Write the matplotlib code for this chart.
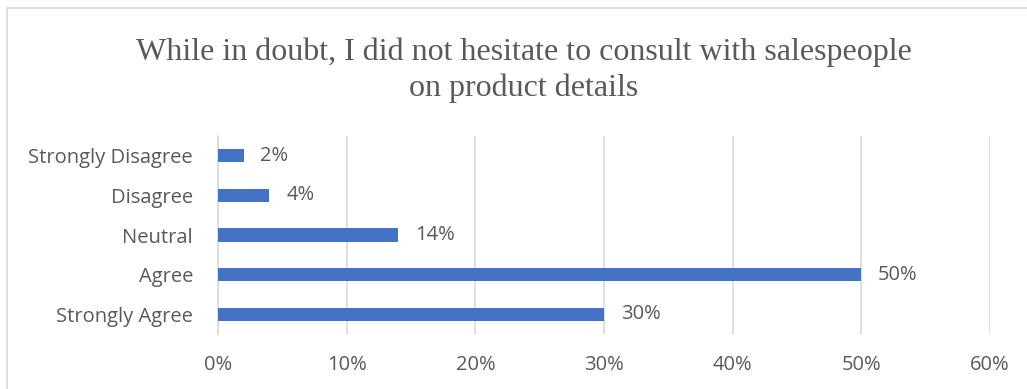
import matplotlib
matplotlib.use("Agg")
import matplotlib.pyplot as plt
from matplotlib.patches import Rectangle
from matplotlib.ticker import PercentFormatter

categories = ["Strongly Disagree", "Disagree", "Neutral", "Agree", "Strongly Agree"]
shares = [0.02, 0.04, 0.14, 0.50, 0.30]
x_ticks = [0.0, 0.1, 0.2, 0.3, 0.4, 0.5, 0.6]
title = "While in doubt, I did not hesitate to consult with salespeople\non product details"

bar_color = "#4472C4"
text_color = "#595959"
grid_color = "#D9D9D9"
label_font = ["Open Sans", "DejaVu Sans"]
label_size = 14.5

fig = plt.figure(figsize=(10.27, 3.89), dpi=100)
ax = fig.add_axes([218 / 1027, 1 - 334 / 389, (990 - 218) / 1027, (334 - 136) / 389])

y = list(range(len(categories)))
ax.barh(y, shares, height=0.33, color=bar_color, zorder=3)
ax.set_ylim(len(categories) - 0.5, -0.5)
ax.set_yticks(y)
ax.set_yticklabels(categories)
ax.set_xlim(0, 0.6)
ax.set_xticks(x_ticks)
ax.xaxis.set_major_formatter(PercentFormatter(1.0, decimals=0))

for yi, v in zip(y, shares):
    ax.annotate(f"{v:.0%}", (v, yi), xytext=(12, 0), textcoords="offset points",
                va="center", ha="left", fontsize=label_size, color=text_color,
                family=label_font)

ax.grid(axis="x", color=grid_color, linewidth=1.2, zorder=0)
for s in ["top", "right", "bottom"]:
    ax.spines[s].set_visible(False)
ax.spines["left"].set_color(grid_color)
ax.spines["left"].set_linewidth(1.2)
ax.tick_params(axis="both", length=0, colors=text_color, labelsize=label_size)
ax.tick_params(axis="x", pad=15)
ax.tick_params(axis="y", pad=18)
for lbl in ax.get_xticklabels() + ax.get_yticklabels():
    lbl.set_family(label_font)

fig.text(524 / 1027, 1 - 70 / 389, title, ha="center", va="center", fontsize=23,
         family=["Liberation Serif", "DejaVu Serif"], color=text_color,
         linespacing=1.3)

fig.patches.append(Rectangle((7 / 1027, -0.1), 1.1, 1 - 8 / 389 + 0.1,
                             transform=fig.transFigure, fill=False,
                             edgecolor=grid_color, linewidth=1.2))

fig.savefig("out.png", dpi=100)
